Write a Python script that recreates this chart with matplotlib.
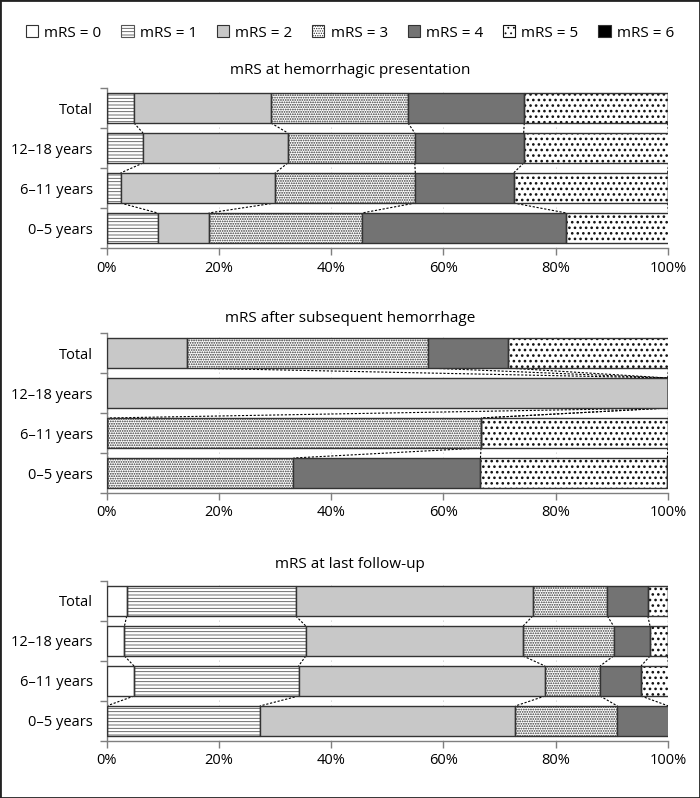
import numpy as np
import matplotlib
matplotlib.use("Agg")
import matplotlib.pyplot as plt
from matplotlib.patches import Patch, Rectangle

plt.rcParams['font.family'] = ['Open Sans', 'DejaVu Sans']
plt.rcParams['hatch.linewidth'] = 0.6

# ---------------- data (percent of patients per mRS grade) ----------------
groups = ['Total', '12–18 years', '6–11 years', '0–5 years']
mrs_labels = ['mRS = 0', 'mRS = 1', 'mRS = 2', 'mRS = 3', 'mRS = 4', 'mRS = 5', 'mRS = 6']

# mRS at hemorrhagic presentation (rows: Total, 12-18, 6-11, 0-5; cols: mRS 0..6)
presentation = [
    [0, 4.9, 24.4, 24.4, 20.7, 25.6, 0],
    [0, 6.5, 25.8, 22.6, 19.4, 25.8, 0],
    [0, 2.5, 27.5, 25.0, 17.5, 27.5, 0],
    [0, 9.1, 9.1, 27.3, 36.4, 18.2, 0],
]
# mRS after subsequent hemorrhage
subsequent = [
    [0, 0, 14.3, 42.9, 14.3, 28.6, 0],
    [0, 0, 100.0, 0, 0, 0, 0],
    [0, 0, 0, 66.7, 0, 33.3, 0],
    [0, 0, 0, 33.3, 33.3, 33.3, 0],
]
# mRS at last follow-up
followup = [
    [3.6, 30.1, 42.2, 13.3, 7.2, 3.6, 0],
    [3.2, 32.3, 38.7, 16.1, 6.5, 3.2, 0],
    [4.9, 29.3, 43.9, 9.8, 7.3, 4.9, 0],
    [0, 27.3, 45.5, 18.2, 9.1, 0, 0],
]
titles = ['mRS at hemorrhagic presentation', 'mRS after subsequent hemorrhage',
          'mRS at last follow-up']
panels = [presentation, subsequent, followup]
xticks = [0, 20, 40, 60, 80, 100]

# segment styles
faces = ['white', 'white', '#c8c8c8', 'white', '#737373', 'white', 'black']
hatches = [None, '-----', None, '.......', None, '...', None]
hatch_cols = [None, '#555555', None, '#333333', None, '#111111', None]
hatch_lws = [0.6, 0.6, 0.6, 0.85, 0.6, 1.1, 0.6]
edge = '#333333'
bar_h = 0.75


def style_hatch(artists, k):
    for a in artists:
        if hasattr(a, 'set_hatch_linewidth'):
            a.set_hatch_linewidth(hatch_lws[k])


W, H = 700, 798
fig = plt.figure(figsize=(W / 100, H / 100), dpi=100)

axes_px = [(88, 248), (333, 493), (581, 741)]
title_px = [71, 318, 565]
left, right = 106.5, 668

for data, title, (top, bot), ty in zip(panels, titles, axes_px, title_px):
    ax = fig.add_axes([left / W, 1 - bot / H, (right - left) / W, (bot - top) / H])
    data = np.array(data)
    cum = np.cumsum(data, axis=1)
    starts = cum - data
    y = np.arange(len(groups))
    for k in range(data.shape[1]):
        if hatches[k]:
            # hatch layer in its own colour, then the outline on top
            bars = ax.barh(y, data[:, k], left=starts[:, k], height=bar_h, color=faces[k],
                           hatch=hatches[k], edgecolor=hatch_cols[k], linewidth=0, zorder=3)
            style_hatch(bars, k)
            ax.barh(y, data[:, k], left=starts[:, k], height=bar_h, fill=False,
                    edgecolor=edge, linewidth=1.0, zorder=4)
        else:
            ax.barh(y, data[:, k], left=starts[:, k], height=bar_h, color=faces[k],
                    edgecolor=edge, linewidth=1.0, zorder=4)
    # series lines between adjacent bars
    for i in range(len(groups) - 1):
        for k in range(data.shape[1]):
            ax.plot([cum[i, k], cum[i + 1, k]], [i + bar_h / 2, i + 1 - bar_h / 2],
                    color='black', lw=0.8, ls=(0, (2, 1.5)), zorder=2)
    ax.set_ylim(len(groups) - 0.5, -0.5)
    ax.set_xlim(0, 100)
    ax.set_yticks(y)
    ax.set_yticklabels(groups, fontsize=10.5)
    ax.set_yticks(np.arange(-0.5, len(groups)), minor=True)
    ax.tick_params(axis='y', which='major', length=0, pad=10)
    ax.tick_params(axis='y', which='minor', length=5, color='#7f7f7f', width=1)
    ax.set_xticks(xticks)
    ax.set_xticklabels([f'{t}%' for t in xticks], fontsize=10.5)
    ax.tick_params(axis='x', length=5, color='#7f7f7f', width=1, pad=4)
    ax.grid(axis='x', color='#aaaaaa', lw=0.6, ls=(0, (1, 5)), zorder=0)
    for s in ['top', 'right']:
        ax.spines[s].set_visible(False)
    for s in ['left', 'bottom']:
        ax.spines[s].set_color('#7f7f7f')
        ax.spines[s].set_linewidth(1)
    fig.text(0.5, 1 - ty / H, title, fontsize=11, ha='center', va='center')

handles = []
for k in range(len(mrs_labels)):
    p = Patch(facecolor=faces[k], hatch=hatches[k],
              edgecolor=hatch_cols[k] if hatches[k] else edge,
              linewidth=0.8, label=mrs_labels[k])
    style_hatch([p], k)
    handles.append(p)
fig.legend(handles=handles, loc='center', bbox_to_anchor=(0.5, 1 - 33 / H), ncol=7,
           frameon=False, fontsize=11, handlelength=0.8, handleheight=0.8,
           handletextpad=0.4, columnspacing=1.3)

fig.patches.append(Rectangle((0, 0), 1, 1, transform=fig.transFigure, fill=False,
                             edgecolor='#222222', lw=2))

fig.savefig('out.png', dpi=100)
